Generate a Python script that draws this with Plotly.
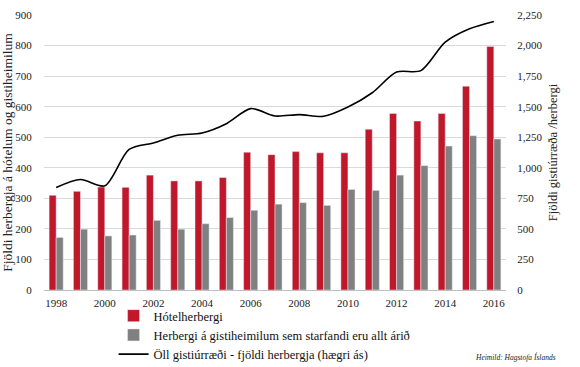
import plotly.graph_objects as go

years = list(range(1998, 2017))
hotel_rooms = [310, 323, 337, 336, 376, 357, 357, 368, 451, 443, 453, 449, 449, 526, 578, 553, 578, 667, 797]
guesthouse_rooms = [172, 199, 177, 180, 228, 199, 217, 237, 261, 281, 286, 277, 329, 326, 376, 407, 471, 505, 494]
all_rooms = [839, 904, 852, 1150, 1203, 1266, 1285, 1361, 1484, 1424, 1435, 1421, 1497, 1614, 1783, 1795, 2028, 2137, 2197]
x_ticks = list(range(1998, 2017, 2))

FONT = "Liberation Serif"
RED = "#C0172A"
GRAY = "#808080"
CLEAR = "rgba(0,0,0,0)"

fig = go.Figure()
fig.add_trace(go.Bar(x=years, y=hotel_rooms, name="Hótelherbergi", marker_color=RED))
fig.add_trace(go.Bar(x=years, y=guesthouse_rooms,
                     name="Herbergi á gistiheimilum sem starfandi eru allt árið", marker_color=GRAY))
fig.add_trace(go.Scatter(x=years, y=all_rooms, yaxis="y2", mode="lines",
                         line=dict(color="black", width=1.6, shape="spline", smoothing=0.8),
                         name="Öll gistiúrræði - fjöldi herbergja (hægri ás)"))

fig.update_layout(
    width=580, height=367,
    margin=dict(l=44, r=74, t=15, b=77, autoexpand=False),
    paper_bgcolor="white", plot_bgcolor="white",
    font=dict(family=FONT, size=11, color="#222"),
    barmode="group", bargap=0.42, bargroupgap=0,
    showlegend=True,
    legend=dict(x=0.1506, y=-0.04, xanchor="left", yanchor="top", orientation="v",
                font=dict(size=12.5, family=FONT, color="#111"), tracegroupgap=0,
                bgcolor=CLEAR, itemwidth=30),
    xaxis=dict(tickmode="array", tickvals=x_ticks, range=[1997.5, 2016.5],
               showgrid=False, showline=True, linecolor="#bfbfbf", linewidth=1,
               ticks="outside", ticklen=3, tickcolor=CLEAR, tickfont=dict(size=11, family=FONT)),
    yaxis=dict(range=[0, 900], dtick=100, showgrid=True, gridcolor="#d9d9d9", gridwidth=1,
               zeroline=False, ticks="outside", ticklen=9, tickcolor=CLEAR,
               tickfont=dict(size=11, family=FONT),
               title=dict(text="Fjöldi herbergja á hótelum og gistiheimilum",
                          font=dict(size=13.5, family=FONT), standoff=2)),
    yaxis2=dict(range=[0, 2250], dtick=250, overlaying="y", side="right", showgrid=False,
                zeroline=False, tickformat=",", ticks="outside", ticklen=8, tickcolor=CLEAR,
                tickfont=dict(size=11, family=FONT),
                title=dict(text="Fjöldi gistiúrræða /herbergi",
                           font=dict(size=12.5, family=FONT), standoff=6)),
    annotations=[dict(text="<i>Heimild: Hagstofa Íslands</i>", xref="paper", yref="paper",
                      x=(558 - 44) / 462, y=-(350 - 290) / 275, xanchor="right", yanchor="top",
                      showarrow=False, font=dict(size=7.5, family=FONT, color="#222"))],
)

fig.write_html("out.html", config={"displayModeBar": False},
               post_script="document.body.style.margin='0px';")
